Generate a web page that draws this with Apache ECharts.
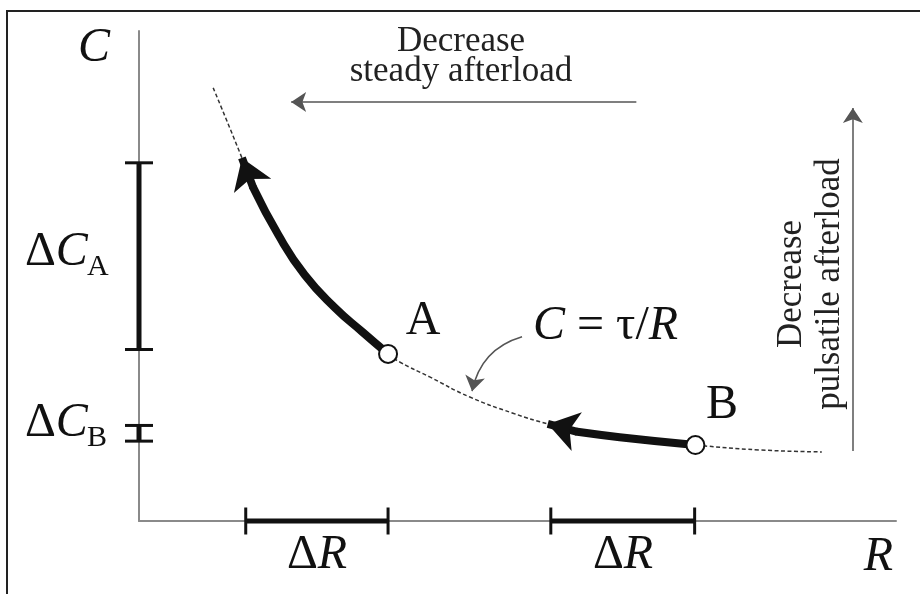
<!DOCTYPE html>
<html>
<head>
<meta charset="utf-8">
<script src="https://cdn.jsdelivr.net/npm/echarts@6/dist/echarts.min.js"></script>
<style>
html,body{margin:0;padding:0;background:#fff;}
#chart{width:920px;height:594px;}
</style>
</head>
<body>
<div id="chart"></div>
<script>
// ---- data (arbitrary units, R: 0..10, C: 0..10) ----
var curveR = [0.98, 1.36, 1.51, 1.84, 2.19, 2.59, 2.95, 3.29, 3.45, 3.84, 4.37, 4.94, 5.40, 5.79, 6.35, 7.35, 8.20, 9.02];
var curveC = [8.84, 7.41, 6.80, 5.84, 5.02, 4.35, 3.86, 3.41, 3.24, 2.94, 2.53, 2.20, 1.98, 1.82, 1.71, 1.55, 1.45, 1.41];
var arrowAR = [3.29, 2.95, 2.59, 2.19, 1.84, 1.51];
var arrowAC = [3.41, 3.86, 4.35, 5.02, 5.84, 6.80];
var arrowBR = [7.35, 6.35, 5.79];
var arrowBC = [1.55, 1.71, 1.82];
var headA = [[1.51, 6.80], [1.36, 7.41]];
var headB = [[5.79, 1.82], [5.40, 1.98]];
var pointNames = ['A', 'B'];
var pointR = [3.29, 7.35];
var pointC = [3.41, 1.55];
var deltaCA = [3.50, 7.31];
var deltaCB = [1.63, 1.95];
var deltaR1 = [1.41, 3.29];
var deltaR2 = [5.44, 7.34];
var steadyArrow = [[6.57, 8.55], [2.01, 8.55]];
var pulsatileArrow = [[9.43, 1.43], [9.43, 8.43]];
var pointerArrow = [[5.06, 3.76], [4.40, 2.65]];

function zip(a, b) { return a.map(function (v, i) { return [v, b[i]]; }); }

var SERIF = '"Liberation Serif", "DejaVu Serif", serif';
var INK = '#111';
var GRAY = '#555';

var chart = echarts.init(document.getElementById('chart'), null, {renderer: 'canvas'});

var option = {
  animation: false,
  backgroundColor: '#fff',
  grid: {left: 139, top: 31, width: 757, height: 490},
  xAxis: {
    type: 'value', min: 0, max: 10,
    name: 'R', nameLocation: 'end', nameGap: 0,
    nameTextStyle: {fontFamily: SERIF, fontStyle: 'italic', fontSize: 48, color: INK,
      align: 'right', verticalAlign: 'top', padding: [12, 3, 0, 0]},
    axisLine: {lineStyle: {color: '#8a8a8a', width: 2}},
    axisTick: {show: false}, axisLabel: {show: false}, splitLine: {show: false}
  },
  yAxis: {
    type: 'value', min: 0, max: 10,
    name: 'C', nameLocation: 'end', nameGap: -17,
    nameTextStyle: {fontFamily: SERIF, fontStyle: 'italic', fontSize: 48, color: INK,
      align: 'right', verticalAlign: 'middle', padding: [0, 29, 0, 0]},
    axisLine: {lineStyle: {color: '#8a8a8a', width: 2}},
    axisTick: {show: false}, axisLabel: {show: false}, splitLine: {show: false}
  },
  series: [
    {
      type: 'line', name: 'C = τ/R', data: zip(curveR, curveC), smooth: true,
      showSymbol: false, z: 2,
      lineStyle: {color: '#333', width: 1.5, type: [4, 2.5]}
    },
    {
      type: 'line', data: zip(arrowAR, arrowAC), smooth: true, showSymbol: false, z: 3,
      lineStyle: {color: INK, width: 8, cap: 'round'}
    },
    {
      type: 'line', data: zip(arrowBR, arrowBC), smooth: true, showSymbol: false, z: 3,
      lineStyle: {color: INK, width: 8, cap: 'round'}
    },
    {
      type: 'lines', coordinateSystem: 'cartesian2d', z: 4,
      symbol: ['none', 'arrow'], symbolSize: [22, 30],
      lineStyle: {color: INK, width: 8, opacity: 1},
      data: [{coords: headA}, {coords: headB}]
    },
    {
      type: 'lines', coordinateSystem: 'cartesian2d', z: 4,
      symbol: ['none', 'arrow'], symbolSize: [10, 15],
      lineStyle: {color: GRAY, width: 1.5, opacity: 1},
      data: [
        {coords: steadyArrow},
        {coords: pulsatileArrow},
        {coords: pointerArrow, lineStyle: {curveness: -0.3}}
      ]
    },
    {
      type: 'scatter', z: 6,
      data: zip(pointR, pointC),
      symbol: 'circle', symbolSize: 18,
      itemStyle: {color: '#fff', borderColor: INK, borderWidth: 2, opacity: 1}
    },
    {
      type: 'line', clip: false, z: 5, data: [[deltaR1[0], 0], [deltaR1[1], 0]],
      symbol: 'rect', symbolSize: [3, 27], itemStyle: {color: INK},
      lineStyle: {color: INK, width: 5}
    },
    {
      type: 'line', clip: false, z: 5, data: [[deltaR2[0], 0], [deltaR2[1], 0]],
      symbol: 'rect', symbolSize: [3, 27], itemStyle: {color: INK},
      lineStyle: {color: INK, width: 5}
    },
    {
      type: 'line', clip: false, z: 5, data: [[0, deltaCA[0]], [0, deltaCA[1]]],
      symbol: 'rect', symbolSize: [28, 3], itemStyle: {color: INK},
      lineStyle: {color: INK, width: 5}
    },
    {
      type: 'line', clip: false, z: 5, data: [[0, deltaCB[0]], [0, deltaCB[1]]],
      symbol: 'rect', symbolSize: [28, 3], itemStyle: {color: INK},
      lineStyle: {color: INK, width: 5}
    }
  ],
  graphic: [
    {type: 'line', shape: {x1: 7, y1: 11, x2: 7, y2: 600}, style: {stroke: '#222', lineWidth: 2}, silent: true},
    {type: 'line', shape: {x1: 6, y1: 11, x2: 925, y2: 11}, style: {stroke: '#222', lineWidth: 2}, silent: true},
    {type: 'text', x: 461, y: 57, style: {text: 'Decrease\nsteady afterload', font: '35px ' + SERIF,
      fill: '#222', align: 'center', verticalAlign: 'middle', lineHeight: 30}},
    {type: 'text', x: 811, y: 284, rotation: Math.PI / 2, style: {text: 'Decrease\npulsatile afterload', font: '35px ' + SERIF,
      fill: '#222', align: 'center', verticalAlign: 'middle', lineHeight: 38}},
    {type: 'text', x: 25, y: 252, style: {text: '{n|Δ}{i|C}', align: 'left', verticalAlign: 'middle',
      rich: {n: {fontFamily: SERIF, fontSize: 48, fill: INK}, i: {fontFamily: SERIF, fontStyle: 'italic', fontSize: 48, fill: INK}}}},
    {type: 'text', x: 87, y: 267, style: {text: 'A', font: '30px ' + SERIF, fill: INK, align: 'left', verticalAlign: 'middle'}},
    {type: 'text', x: 25, y: 423, style: {text: '{n|Δ}{i|C}', align: 'left', verticalAlign: 'middle',
      rich: {n: {fontFamily: SERIF, fontSize: 48, fill: INK}, i: {fontFamily: SERIF, fontStyle: 'italic', fontSize: 48, fill: INK}}}},
    {type: 'text', x: 87, y: 438, style: {text: 'B', font: '30px ' + SERIF, fill: INK, align: 'left', verticalAlign: 'middle'}},
    {type: 'text', x: 423, y: 321, style: {text: pointNames[0], font: '48px ' + SERIF, fill: INK, align: 'center', verticalAlign: 'middle'}},
    {type: 'text', x: 722, y: 405, style: {text: pointNames[1], font: '48px ' + SERIF, fill: INK, align: 'center', verticalAlign: 'middle'}},
    {type: 'text', x: 533, y: 326, style: {text: '{i|C}{n| = τ/}{i|R}', align: 'left', verticalAlign: 'middle',
      rich: {n: {fontFamily: SERIF, fontSize: 48, fill: INK}, i: {fontFamily: SERIF, fontStyle: 'italic', fontSize: 48, fill: INK}}}},
    {type: 'text', x: 317, y: 555, style: {text: '{n|Δ}{i|R}', align: 'center', verticalAlign: 'middle',
      rich: {n: {fontFamily: SERIF, fontSize: 48, fill: INK}, i: {fontFamily: SERIF, fontStyle: 'italic', fontSize: 48, fill: INK}}}},
    {type: 'text', x: 623, y: 555, style: {text: '{n|Δ}{i|R}', align: 'center', verticalAlign: 'middle',
      rich: {n: {fontFamily: SERIF, fontSize: 48, fill: INK}, i: {fontFamily: SERIF, fontStyle: 'italic', fontSize: 48, fill: INK}}}}
  ]
};
chart.setOption(option);
</script>
</body>
</html>
